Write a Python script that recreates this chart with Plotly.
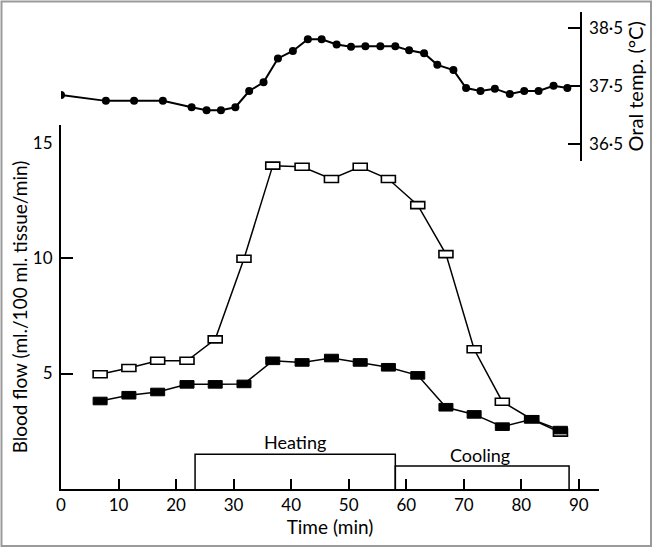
import plotly.graph_objects as go

# ---- data ----
temp_time = [0, 7.8, 12.7, 17.7, 22.7, 25.3, 27.8, 30.3, 32.7, 35.2, 37.7, 40.3, 42.9, 45.3,
             47.9, 50.4, 52.9, 55.5, 58.1, 60.5, 63.1, 65.4, 68.2, 70.4, 72.9, 75.4, 78.0,
             80.5, 83.0, 85.6, 88.0]
temp_vals = [37.34, 37.24, 37.24, 37.24, 37.13, 37.08, 37.08, 37.13, 37.41, 37.56, 37.97,
             38.10, 38.30, 38.30, 38.21, 38.17, 38.18, 38.18, 38.18, 38.11, 38.06, 37.86,
             37.77, 37.46, 37.41, 37.45, 37.36, 37.41, 37.41, 37.50, 37.46]

flow_time = [6.8, 11.8, 16.8, 21.9, 26.8, 31.8, 36.8, 41.9, 47.0, 52.0, 56.9, 62.0, 66.9,
             71.8, 76.7, 81.8, 86.8]
flow_open = [4.97, 5.24, 5.55, 5.55, 6.48, 9.97, 14.0, 13.95, 13.42, 13.95, 13.42, 12.29,
             10.17, 6.05, 3.78, 3.02, 2.44]
flow_filled = [3.81, 4.06, 4.2, 4.53, 4.53, 4.55, 5.55, 5.48, 5.67, 5.48, 5.27, 4.92, 3.54,
               3.23, 2.7, 3.02, 2.55]

periods = ["Heating", "Cooling"]
period_start = [23.3, 58.1]
period_end = [58.1, 88.3]
period_level = [1.5, 1.0]
label_time = [40.7, 72.9]
label_level = [2.05, 1.47]

x_ticks = [0, 10, 20, 30, 40, 50, 60, 70, 80, 90]
flow_ticks = [5, 10, 15]
temp_ticks = [36.5, 37.5, 38.5]
temp_ticktext = ["36·5", "37·5", "38·5"]

FONT = "Lato"
W, H = 656, 548
ML, MR, MT, MB = 61, 57, 12, 59
PW, PH = W - ML - MR, H - MT - MB

fig = go.Figure()

# period boxes
for s, e, h in zip(period_start, period_end, period_level):
    fig.add_trace(go.Scatter(x=[s, s, e, e], y=[0, h, h, 0], mode="lines",
                             line=dict(color="black", width=1.5),
                             showlegend=False, hoverinfo="skip"))
for name, t, v in zip(periods, label_time, label_level):
    fig.add_annotation(x=t, y=v, text=name, showarrow=False,
                       font=dict(family=FONT, size=18, color="black"))

# blood flow lines
fig.add_trace(go.Scatter(x=flow_time, y=flow_open, mode="lines",
                         line=dict(color="black", width=1.5), showlegend=False))
fig.add_trace(go.Scatter(x=flow_time, y=flow_filled, mode="lines",
                         line=dict(color="black", width=1.5), showlegend=False))

# rectangular markers anchored at data points
shapes = []
for t, v in zip(flow_time, flow_open):
    shapes.append(dict(type="rect", xref="x", yref="y", xsizemode="pixel", ysizemode="pixel",
                       xanchor=t, yanchor=v, x0=-7, x1=7, y0=-3.5, y1=3.5,
                       line=dict(color="black", width=1.6), fillcolor="white", layer="above"))
for t, v in zip(flow_time, flow_filled):
    shapes.append(dict(type="rect", xref="x", yref="y", xsizemode="pixel", ysizemode="pixel",
                       xanchor=t, yanchor=v, x0=-7, x1=7, y0=-3.8, y1=3.8,
                       line=dict(color="black", width=1), fillcolor="black", layer="above"))

# temperature
fig.add_trace(go.Scatter(x=temp_time, y=temp_vals, yaxis="y2", mode="lines+markers",
                         line=dict(color="black", width=2),
                         marker=dict(color="black", size=8, symbol="circle"),
                         showlegend=False))

# frame border
shapes.append(dict(type="rect", xref="paper", yref="paper",
                   x0=(1.5 - ML) / PW, x1=(651 - ML) / PW,
                   y0=(H - MB - 546) / PH, y1=(H - MB - 1.5) / PH,
                   line=dict(color="#9a9a9a", width=2), fillcolor="rgba(0,0,0,0)", layer="below"))

top_flow = (H - MB - 125) / PH
fig.update_layout(
    width=W, height=H,
    margin=dict(l=ML, r=MR, t=MT, b=MB, autoexpand=False),
    paper_bgcolor="white", plot_bgcolor="white",
    font=dict(family=FONT, size=17, color="black"),
    shapes=shapes,
    xaxis=dict(range=[0, 93.5], showline=True, linecolor="black", linewidth=2,
               tickvals=x_ticks, ticks="inside", ticklen=10, tickwidth=1.5, tickcolor="black",
               showgrid=False, zeroline=False, automargin=False,
               tickfont=dict(family=FONT, size=17),
               title=dict(text="Time (min)", font=dict(family=FONT, size=19), standoff=0)),
    yaxis=dict(range=[0, 15.76], domain=[0, top_flow], showline=True, linecolor="black",
               linewidth=2, tickvals=flow_ticks, ticks="inside", ticklen=12, tickwidth=1.5,
               tickcolor="black", showgrid=False, zeroline=False, automargin=False,
               tickfont=dict(family=FONT, size=17), ticklabelstandoff=3,
               title=dict(text="Blood flow (ml./100 ml. tissue/min)",
                          font=dict(family=FONT, size=19), standoff=0)),
    yaxis2=dict(range=[36.21, 38.77], domain=[(H - MB - 160.7) / PH, 1.0], anchor="free",
                position=(580.7 - ML) / PW, side="right", showline=True, linecolor="black",
                linewidth=2, tickvals=temp_ticks, ticktext=temp_ticktext, ticks="inside",
                ticklen=12, tickwidth=1.5, tickcolor="black", showgrid=False, zeroline=False,
                automargin=False, tickfont=dict(family=FONT, size=17), ticklabelstandoff=4,
                title=dict(text="Oral temp. (°C)", font=dict(family=FONT, size=20), standoff=0)),
)

fig.write_html("out.html", config={"displayModeBar": False},
               post_script="document.body.style.margin='0';document.body.style.overflow='hidden';")
